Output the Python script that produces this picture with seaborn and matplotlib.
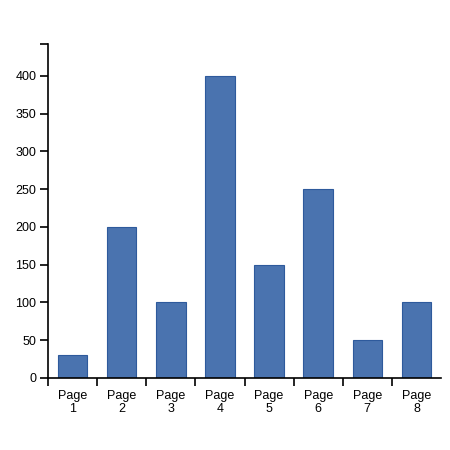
import matplotlib
matplotlib.use("Agg")
import matplotlib.pyplot as plt
import seaborn as sns
import pandas as pd
import numpy as np
from matplotlib.ticker import FixedLocator

categories = ["Page\n1", "Page\n2", "Page\n3", "Page\n4", "Page\n5", "Page\n6", "Page\n7", "Page\n8"]
values = [30, 200, 100, 400, 150, 250, 50, 100]
y_ticks = [0, 50, 100, 150, 200, 250, 300, 350, 400]

sns.set_style("white")
plt.rcParams['font.family'] = ['Liberation Sans', 'DejaVu Sans']
plt.rcParams['text.color'] = 'black'
plt.rcParams['xtick.color'] = 'black'
plt.rcParams['ytick.color'] = 'black'

df = pd.DataFrame({"page": categories, "value": values})

fig = plt.figure(figsize=(4.5, 4.5), dpi=100)
ax = fig.add_axes([48/450, 72/450, (441-48)/450, (378-44)/450])
sns.barplot(data=df, x="page", y="value", ax=ax, color="#4A73AF",
            saturation=1, width=0.6, edgecolor="#2E5A9C", linewidth=0.8)

ymax = 442
ax.set_ylim(0, ymax)
ax.set_xlim(-0.5, len(categories) - 0.5)
ax.set_xlabel("")
ax.set_ylabel("")
ax.set_yticks(y_ticks)
ax.yaxis.set_minor_locator(FixedLocator([ymax]))
ax.xaxis.set_minor_locator(FixedLocator(np.arange(-0.5, len(categories) - 1, 1.0)))
ax.tick_params(axis="y", which="both", direction="out", length=6, width=1.2,
               color="black", labelsize=9, pad=2.5, left=True, labelcolor="black")
ax.tick_params(axis="x", which="major", length=0, labelsize=9, pad=9, labelcolor="black")
ax.tick_params(axis="x", which="minor", direction="out", length=6, width=1.2,
               color="black", bottom=True)
for lbl in ax.get_xticklabels():
    lbl.set_linespacing(1.05)

for s in ["top", "right"]:
    ax.spines[s].set_visible(False)
for s in ["left", "bottom"]:
    ax.spines[s].set_color("black")
    ax.spines[s].set_linewidth(1.2)

fig.savefig("out.png", dpi=100)
